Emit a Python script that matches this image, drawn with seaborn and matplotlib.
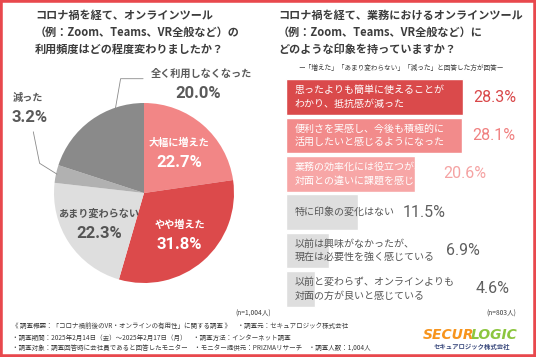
import numpy as np
import pandas as pd
import matplotlib
matplotlib.use("Agg")
import matplotlib.pyplot as plt
import seaborn as sns
from matplotlib.patches import Rectangle
from matplotlib.lines import Line2D

# pie data (left)
pie_labels = ['大幅に増えた', 'やや増えた', 'あまり変わらない', '減った', '全く利用しなくなった']
pie_values = [22.7, 31.8, 22.3, 3.2, 20.0]
pie_colors = ['#f28686', '#dc4a4b', '#dedede', '#b1b1b1', '#8a8a8a']

# bar data (right)
bar_labels = ['思ったよりも簡単に使えることが\nわかり、抵抗感が減った',
              '便利さを実感し、今後も積極的に\n活用したいと感じるようになった',
              '業務の効率化には役立つが、\n対面との違いに課題を感じる',
              '特に印象の変化はない',
              '以前は興味がなかったが、\n現在は必要性を強く感じている',
              '以前と変わらず、オンラインよりも\n対面の方が良いと感じている']
bar_values = [28.3, 28.1, 20.6, 11.5, 6.9, 4.6]
bar_colors = ['#da4a4b', '#f28b8b', '#f7a6a6', '#dedede', '#dedede', '#dedede']
bar_text_colors = ['white', 'white', 'white', '#555555', '#555555', '#555555']
pct_colors = ['#d94749', '#f08080', '#f5a3a3', '#606060', '#606060', '#606060']
pct_x = [29.9, 29.8, 25.1, 18.7, 25.6, 30.4]  # where the % text starts (layout)

footer = ['《 調査概要：「コロナ禍前後のVR・オンラインの有用性」に関する調査 》　・調査元：セキュアロジック株式会社',
          '・調査期間：2025年2月14日（金）～2025年2月17日（月）　・調査方法：インターネット調査',
          '・調査対象：調査回答時に会社員であると回答したモニター　・モニター提供元：PRIZMAリサーチ　・調査人数：1,004人']

sns.set_theme(style='white')
plt.rcParams['font.family'] = ['Noto Sans CJK JP', 'DejaVu Sans']

W, H = 536, 357
fig = plt.figure(figsize=(W / 100, H / 100), dpi=100)
fig.patch.set_facecolor('white')


def px(x, y):
    return x / W, 1 - y / H


dark = '#3c3c3c'

# titles
left_title = ['コロナ禍を経て、オンラインツール', '（例：Zoom、Teams、VR全般など）の', '利用頻度はどの程度変わりましたか？']
right_title = ['コロナ禍を経て、業務におけるオンラインツール', '（例：Zoom、Teams、VR全般など）に', 'どのような印象を持っていますか？']
for i, (l, r) in enumerate(zip(left_title, right_title)):
    fig.text(*px(35, 15 + 17 * i), l, fontsize=8, fontweight='bold', color=dark, va='center', ha='left')
    fig.text(*px(278, 15 + 17 * i), r, fontsize=8, fontweight='bold', color=dark, va='center', ha='left')
fig.text(*px(401, 68), 'ー「増えた」「あまり変わらない」「減った」と回答した方が回答ー',
         fontsize=4.8, color=dark, ha='center', va='center')

# pie
pax = fig.add_axes([54 / W, 1 - 283 / H, 180 / W, 180 / H])
wedges, _ = pax.pie(pie_values, colors=pie_colors, startangle=90, counterclock=False,
                    radius=1, wedgeprops=dict(linewidth=0))
pax.set_xlim(-1, 1)
pax.set_ylim(-1, 1)
pax.set_aspect('equal')
pax.axis('off')

for i, w in enumerate(wedges):
    ang = np.deg2rad((w.theta1 + w.theta2) / 2)
    cx, cy = 0.6 * np.cos(ang), 0.6 * np.sin(ang)
    if i <= 2:
        tc = 'white' if i < 2 else '#555555'
        pax.text(cx, cy + 0.1, pie_labels[i], fontsize=7.3, fontweight='bold', color=tc,
                 ha='center', va='center')
        pax.text(cx, cy - 0.12, f'{pie_values[i]:.1f}%', fontsize=12, fontweight='bold',
                 color=tc, ha='center', va='center', family=['Roboto', 'DejaVu Sans'])

# outside labels
grey_txt = '#5a5a5a'
pax.text(0.64, 1.32, pie_labels[4], fontsize=7.3, fontweight='bold', color=grey_txt,
         ha='center', va='center', clip_on=False)
pax.text(0.60, 1.11, f'{pie_values[4]:.1f}%', fontsize=12, fontweight='bold', color=grey_txt,
         ha='center', va='center', clip_on=False, family=['Roboto', 'DejaVu Sans'])
pax.text(-1.46, 1.06, pie_labels[3], fontsize=7.3, fontweight='bold', color=grey_txt,
         ha='left', va='center', clip_on=False)
pax.text(-1.47, 0.84, f'{pie_values[3]:.1f}%', fontsize=12, fontweight='bold', color=grey_txt,
         ha='left', va='center', clip_on=False, family=['Roboto', 'DejaVu Sans'])

# leader lines
a3 = np.deg2rad((wedges[3].theta1 + wedges[3].theta2) / 2)
pax.add_line(Line2D([0.99 * np.cos(a3), -1.16, -1.23], [0.99 * np.sin(a3), 0.33, 0.68],
                    color='#8a8a8a', lw=0.6, clip_on=False))
pax.add_line(Line2D([-0.34, -0.26, -0.01], [0.81, 1.27, 1.27],
                    color='#8a8a8a', lw=0.6, clip_on=False))

fig.text(*px(253, 314), '(n=1,004人)', fontsize=4.8, color=dark, ha='center', va='center')

# bars
df = pd.DataFrame({'impression': bar_labels, 'pct': bar_values})
bax = fig.add_axes([286 / W, 1 - 308 / H, 250 / W, 230 / H])
sns.barplot(data=df, x='pct', y='impression', hue='impression', palette=bar_colors,
            legend=False, width=0.93, saturation=1, ax=bax, orient='h')
bax.set_xlim(0, 40)
bax.set_ylim(5.5, -0.5)
bax.axis('off')
for i, lab in enumerate(bar_labels):
    bax.text(1.4, i, lab, fontsize=7.2, color=bar_text_colors[i], ha='left', va='center',
             linespacing=1.45)
    bax.text(pct_x[i], i, f'{bar_values[i]:.1f}%', fontsize=11.5, color=pct_colors[i],
             ha='left', va='center', family=['Roboto', 'DejaVu Sans'])

fig.text(*px(501, 314), '(n=803人)', fontsize=4.8, color=dark, ha='center', va='center')

# footer
for i, line in enumerate(footer):
    fig.text(*px(12, 326 + 11.5 * i), line, fontsize=4.7, color=dark, ha='left', va='center')

# logo
t1 = fig.text(*px(423, 335), 'SECUR', fontsize=10, fontweight='bold', fontstyle='italic',
              color='#f7941d', ha='left', va='center', family='DejaVu Sans')
fig.add_artist(plt.Annotation('LOGIC', xy=(1, 0.5), xycoords=t1, xytext=(-2.5, 0),
                              textcoords='offset points', va='center', ha='left',
                              fontsize=10, fontweight='bold', fontstyle='italic',
                              color='#8cc63f', family='DejaVu Sans'))
fig.text(*px(472, 347), 'セキュアロジック株式会社', fontsize=4.6, color='#3b4a7d',
         ha='center', va='center', fontweight='bold')

# red frame
fig.add_artist(Rectangle((0, 0), 1, 1, transform=fig.transFigure, fill=False,
                         edgecolor='#e8484d', linewidth=4))

fig.savefig('out.png', dpi=100, facecolor='white')
